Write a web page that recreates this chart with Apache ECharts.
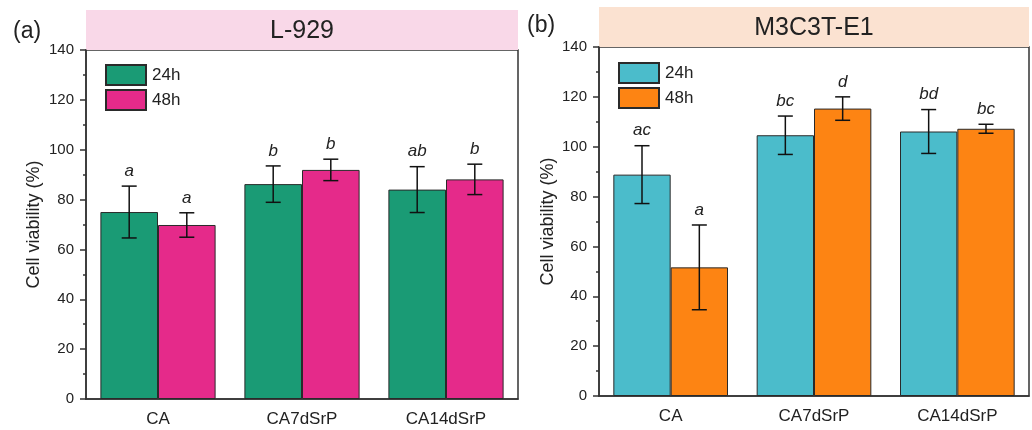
<!DOCTYPE html>
<html><head><meta charset="utf-8">
<script src="https://cdn.jsdelivr.net/npm/echarts@6/dist/echarts.min.js"></script>
<style>html,body{margin:0;padding:0;background:#fff}#c{width:1032px;height:430px}</style>
</head><body><div id="c"></div>
<script>
// ---------- data ----------
const categories = ['CA', 'CA7dSrP', 'CA14dSrP'];
const timeNames = ['24h', '48h'];
const panelTitles = ['L-929', 'M3C3T-E1'];
const panelLetters = ['(a)', '(b)'];
const yAxisName = 'Cell viability (%)';

const l929_24h = [75.0, 86.2, 84.0];
const l929_24h_err = [10.4, 7.3, 9.2];
const l929_24h_sig = ['a', 'b', 'ab'];
const l929_48h = [69.8, 91.9, 88.1];
const l929_48h_err = [4.9, 4.3, 6.1];
const l929_48h_sig = ['a', 'b', 'b'];

const m3_24h = [88.8, 104.6, 106.1];
const m3_24h_err = [11.6, 7.7, 8.8];
const m3_24h_sig = ['ac', 'bc', 'bd'];
const m3_48h = [51.6, 115.3, 107.2];
const m3_48h_err = [17.0, 4.7, 1.8];
const m3_48h_sig = ['a', 'd', 'bc'];

// ---------- style ----------
const FONT = 'Liberation Sans, Arial, sans-serif';
const TXT = '#222';
const AX = '#333';
const colors = [['#1a9b75', '#e52a8a'], ['#4bbccb', '#fd8413']];
const titleFill = ['#f9d8e8', '#fbe2d1'];
const grids = [
  {left: 86, top: 50, width: 432, height: 349},
  {left: 599, top: 47, width: 430, height: 349}
];

const panels = [
  {vals: [l929_24h, l929_48h], errs: [l929_24h_err, l929_48h_err], sigs: [l929_24h_sig, l929_48h_sig]},
  {vals: [m3_24h, m3_48h], errs: [m3_24h_err, m3_48h_err], sigs: [m3_24h_sig, m3_48h_sig]}
];

function errRenderer(side, sigArr) {
  return function (params, api) {
    const i = api.value(0), v = api.value(1), e = api.value(2);
    const band = api.size([1, 0])[0];
    const off = side * band * 0.2;
    const top = api.coord([i, v + e]);
    const bot = api.coord([i, v - e]);
    const x = top[0] + off;
    const cap = 7.5;
    const ls = {stroke: '#111', lineWidth: 1.5};
    return {type: 'group', children: [
      {type: 'line', shape: {x1: x, y1: top[1], x2: x, y2: bot[1]}, style: ls},
      {type: 'line', shape: {x1: x - cap, y1: top[1], x2: x + cap, y2: top[1]}, style: ls},
      {type: 'line', shape: {x1: x - cap, y1: bot[1], x2: x + cap, y2: bot[1]}, style: ls},
      {type: 'text', x: x, y: top[1] - 15, style: {
        text: sigArr[params.dataIndex], fontSize: 17, fontStyle: 'italic', fontFamily: FONT,
        fill: TXT, align: 'center', verticalAlign: 'middle'}}
    ]};
  };
}

const xAxis = [], yAxis = [], series = [], legend = [], graphic = [];
panels.forEach((p, pi) => {
  const g = grids[pi];
  xAxis.push({
    gridIndex: pi, type: 'category', data: categories,
    axisLine: {lineStyle: {color: AX, width: 1.5}},
    axisTick: {alignWithLabel: true, length: 6, lineStyle: {color: AX, width: 1.5}},
    axisLabel: {fontSize: 17, color: TXT, fontFamily: FONT, margin: 12},
    splitLine: {show: false}
  });
  xAxis.push({
    gridIndex: pi, type: 'category', data: categories, position: 'bottom',
    axisLine: {show: false},
    axisTick: {alignWithLabel: false, length: 3, lineStyle: {color: AX, width: 1.5}},
    axisLabel: {show: false}, splitLine: {show: false}
  });
  yAxis.push({
    gridIndex: pi, type: 'value', min: 0, max: 140, interval: 20,
    name: yAxisName, nameLocation: 'middle', nameGap: pi === 0 ? 43 : 42, nameRotate: 90,
    nameTextStyle: {fontSize: 18, color: TXT, fontFamily: FONT},
    axisLine: {show: true, lineStyle: {color: AX, width: 1.5}},
    axisTick: {show: true, length: 6, lineStyle: {color: AX, width: 1.5}},
    minorTick: {show: true, splitNumber: 2, length: 3, lineStyle: {color: AX, width: 1.5}},
    axisLabel: {fontSize: 15, color: TXT, fontFamily: FONT, margin: 12},
    splitLine: {show: false}
  });
  const names = timeNames.map(t => panelTitles[pi] + '|' + t);
  timeNames.forEach((t, si) => {
    series.push({
      type: 'bar', name: names[si], xAxisIndex: pi * 2, yAxisIndex: pi,
      data: p.vals[si], barWidth: '40%', barGap: '0%',
      itemStyle: {color: colors[pi][si], borderColor: '#2a2a2a', borderWidth: 1},
      emphasis: {disabled: true}
    });
  });
  timeNames.forEach((t, si) => {
    series.push({
      type: 'custom', xAxisIndex: pi * 2, yAxisIndex: pi, z: 5,
      data: p.vals[si].map((v, i) => [i, v, p.errs[si][i]]),
      renderItem: errRenderer(si === 0 ? -1 : 1, p.sigs[si]),
      silent: true
    });
  });
  legend.push({
    data: names, orient: 'vertical', left: pi === 0 ? 100 : 613, top: pi === 0 ? 59 : 57,
    itemWidth: 40, itemHeight: 20, itemGap: 3, icon: 'rect',
    formatter: n => n.split('|')[1],
    textStyle: {fontSize: 17, color: TXT, fontFamily: FONT, padding: [0, 0, 0, 1]},
    selectedMode: false
  });
  const bandTop = pi === 0 ? 10 : 7;
  // title band
  graphic.push({
    type: 'rect', left: g.left, top: bandTop, z: 0,
    shape: {width: g.width, height: 40},
    style: {fill: titleFill[pi]}
  });
  graphic.push({
    type: 'text', x: g.left + g.width / 2, y: bandTop + 21, z: 1,
    style: {text: panelTitles[pi], fontSize: 25, fill: TXT, fontFamily: FONT, align: 'center', verticalAlign: 'middle'}
  });
  graphic.push({
    type: 'text', left: pi === 0 ? 13 : 527, top: pi === 0 ? 20 : 14,
    style: {text: panelLetters[pi], fontSize: 23, fill: TXT, fontFamily: FONT}
  });
});

const chart = echarts.init(document.getElementById('c'), null, {renderer: 'canvas'});
chart.setOption({
  backgroundColor: '#fff',
  animation: false,
  grid: grids.map(g => Object.assign({show: true, borderColor: AX, borderWidth: 1.5, backgroundColor: 'transparent'}, g)),
  xAxis, yAxis, series, legend, graphic
});
</script>
</body></html>
